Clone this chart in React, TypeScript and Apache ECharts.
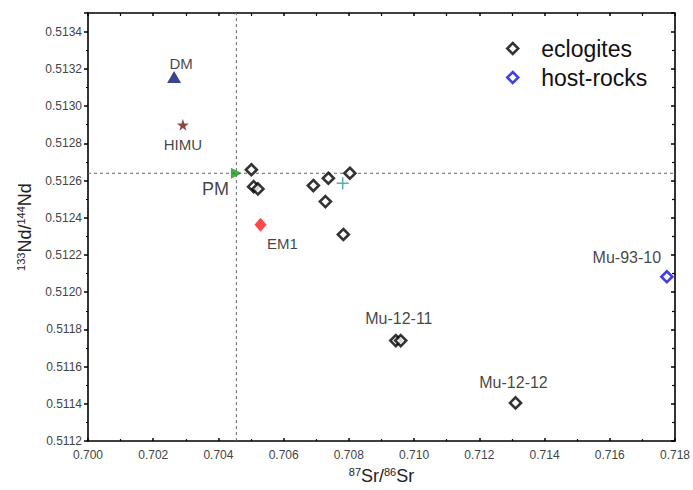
import React, { useEffect, useRef } from 'react';
import * as echarts from 'echarts';

const FONT = '"Liberation Sans", Arial, Helvetica, sans-serif';

// Axis ranges / ticks
const xMin = 0.7;
const xMax = 0.718;
const xStep = 0.002;
const yMin = 0.5112;
const yMax = 0.5135;
const yStep = 0.0002;

// Eclogite samples (87Sr/86Sr, 143Nd/144Nd)
const eclogiteSr = [0.70501, 0.70508, 0.70521, 0.70691, 0.70737, 0.70803, 0.70728, 0.70783, 0.70944, 0.70959, 0.71311];
const eclogiteNd = [0.512658, 0.512567, 0.512555, 0.512573, 0.512612, 0.512639, 0.512487, 0.51231, 0.51174, 0.51174, 0.511405];
const eclogiteLabels = ['', '', '', '', '', '', '', '', 'Mu-12-11', '', 'Mu-12-12'];

// Host rocks
const hostSr = [0.71775];
const hostNd = [0.512083];
const hostLabels = ['Mu-93-10'];

// Mantle end-members
const refNames = ['DM', 'HIMU', 'PM', 'EM1'];
const refSr = [0.70264, 0.70291, 0.70455, 0.70529];
const refNd = [0.513156, 0.512899, 0.512639, 0.512362];

// Extra marker (+) and EM2 text annotation
const crossSr = [0.70781];
const crossNd = [0.512585];
const em2Sr = [0.7107];
const em2Nd = [0.512517];
const em2Names = ['EM2'];

const STAR = 'path://M50 0 L61 35 L98 35 L68 57 L79 91 L50 70 L21 91 L32 57 L2 35 L39 35 Z';
const CROSS = 'path://M0 6 L12 6 M6 0 L6 12';

export default function App() {
  const ref = useRef<HTMLDivElement>(null);

  useEffect(() => {
    if (!ref.current) return;
    const chart = echarts.init(ref.current, null, { renderer: 'svg' });

    const sampleLabelOffsets: Record<string, number[]> = {
      'Mu-12-11': [3, -22],
      'Mu-12-12': [-2, -20],
      'Mu-93-10': [-40, -19],
    };

    const textBase = {
      fontFamily: FONT,
      color: '#111',
      textBorderWidth: 0,
      textBorderColor: 'transparent',
      textShadowBlur: 0,
    };

    const labelFor = (name: string) =>
      name
        ? {
            show: true,
            position: 'inside',
            formatter: '{b}',
            offset: sampleLabelOffsets[name] || [0, -20],
            fontSize: 16,
            ...textBase,
          }
        : { show: false };

    const refStyles: any = {
      DM: { symbol: 'triangle', size: [14, 12], rotate: 0, color: '#0a1870', offset: [7, -14], fontSize: 15 },
      HIMU: { symbol: STAR, size: 12, rotate: 0, color: '#741818', offset: [0, 20], fontSize: 15 },
      PM: { symbol: 'triangle', size: [11, 11], rotate: -90, color: '#159a15', offset: [-21, 16], fontSize: 18 },
      EM1: { symbol: 'diamond', size: [12, 14], rotate: 0, color: '#ff1a1a', offset: [22, 19], fontSize: 15 },
    };

    const refSeries = refNames.map((n, i) => {
      const s = refStyles[n];
      return {
        type: 'scatter',
        name: n,
        symbol: s.symbol,
        symbolSize: s.size,
        symbolRotate: s.rotate,
        z: 3,
        itemStyle: { color: s.color },
        label: {
          show: true,
          position: 'inside',
          formatter: '{b}',
          offset: s.offset,
          fontSize: s.fontSize,
          ...textBase,
        },
        data: [{ name: n, value: [refSr[i], refNd[i]] }],
      };
    });

    const axisCommon = {
      type: 'value',
      axisLine: { show: true, lineStyle: { color: '#000', width: 1.6 } },
      splitLine: { show: false },
    };

    const supRich = {
      sup: { fontSize: 11, verticalAlign: 'top', lineHeight: 10, fontFamily: FONT, color: '#222' },
      b: { fontSize: 18, fontFamily: FONT, color: '#222', lineHeight: 20 },
    };

    const dashStyle = { color: '#666', type: [3, 3], width: 1 };

    const option: any = {
      animation: false,
      backgroundColor: '#fff',
      textStyle: { fontFamily: FONT },
      grid: { left: 88, right: 16, top: 13, bottom: 47, containLabel: false },
      legend: {
        data: ['eclogites', 'host-rocks'],
        orient: 'vertical',
        left: 501,
        top: 32,
        itemWidth: 11,
        itemHeight: 11,
        itemGap: 6,
        itemStyle: { borderWidth: 2.5 },
        textStyle: { fontSize: 23, fontFamily: FONT, color: '#111', lineHeight: 23, padding: [0, 0, 0, 18] },
      },
      xAxis: [
        {
          ...axisCommon,
          position: 'bottom',
          min: xMin,
          max: xMax,
          interval: xStep,
          axisTick: { show: true, inside: true, length: 3, lineStyle: { color: '#000', width: 1.5 } },
          minorTick: { show: true, splitNumber: 2, length: 2, lineStyle: { color: '#000', width: 1.2 } },
          axisLabel: {
            fontSize: 12,
            color: '#444',
            fontFamily: FONT,
            margin: 8,
            formatter: (v: number) => v.toFixed(3),
          },
          name: '{sup|87}{b|Sr/}{sup|86}{b|Sr}',
          nameLocation: 'middle',
          nameGap: 23,
          nameTextStyle: { rich: supRich },
        },
        {
          ...axisCommon,
          position: 'top',
          min: xMin,
          max: xMax,
          interval: xStep,
          axisTick: { show: true, inside: true, length: 3, lineStyle: { color: '#000', width: 1.5 } },
          minorTick: { show: true, splitNumber: 2, length: 3, lineStyle: { color: '#000', width: 1.2 } },
          axisLabel: { show: false },
        },
      ],
      yAxis: [
        {
          ...axisCommon,
          position: 'left',
          min: yMin,
          max: yMax,
          interval: yStep,
          axisTick: { show: true, inside: false, length: 4, lineStyle: { color: '#000', width: 1.5 } },
          minorTick: { show: true, splitNumber: 2, length: 2, lineStyle: { color: '#000', width: 1.2 } },
          axisLabel: {
            fontSize: 12,
            color: '#444',
            fontFamily: FONT,
            margin: 6,
            showMaxLabel: false,
            formatter: (v: number) => (v > 0.51345 ? '' : v.toFixed(4)),
          },
          name: '{sup|133}{b|Nd/}{sup|144}{b|Nd}',
          nameLocation: 'middle',
          nameGap: 53,
          nameTextStyle: { rich: supRich },
        },
        {
          ...axisCommon,
          position: 'right',
          min: yMin,
          max: yMax,
          interval: yStep,
          axisTick: { show: true, inside: true, length: 4, lineStyle: { color: '#000', width: 1.5 } },
          minorTick: { show: true, splitNumber: 2, length: 3, lineStyle: { color: '#000', width: 1.2 } },
          axisLabel: { show: false },
        },
      ],
      series: [
        {
          type: 'line',
          name: 'pm-v',
          silent: true,
          symbol: 'none',
          z: 1,
          lineStyle: dashStyle,
          data: [
            [refSr[2], yMin],
            [refSr[2], yMax],
          ],
        },
        {
          type: 'line',
          name: 'pm-h',
          silent: true,
          symbol: 'none',
          z: 1,
          lineStyle: dashStyle,
          data: [
            [xMin, refNd[2]],
            [xMax, refNd[2]],
          ],
        },
        {
          type: 'scatter',
          name: 'eclogites',
          symbol: 'diamond',
          symbolSize: 11,
          z: 4,
          itemStyle: { color: '#fff', borderColor: '#000', borderWidth: 2.6 },
          data: eclogiteSr.map((x, i) => ({
            name: eclogiteLabels[i],
            value: [x, eclogiteNd[i]],
            label: labelFor(eclogiteLabels[i]),
          })),
        },
        {
          type: 'scatter',
          name: 'host-rocks',
          symbol: 'diamond',
          symbolSize: 11,
          z: 4,
          itemStyle: { color: '#fff', borderColor: '#1010e6', borderWidth: 2.6 },
          data: hostSr.map((x, i) => ({
            name: hostLabels[i],
            value: [x, hostNd[i]],
            label: labelFor(hostLabels[i]),
          })),
        },
        ...refSeries,
        {
          type: 'scatter',
          name: 'cross',
          symbol: CROSS,
          symbolSize: 12,
          z: 3,
          itemStyle: { color: 'none', borderColor: '#2a9a9a', borderWidth: 1.5 },
          data: crossSr.map((x, i) => ({ value: [x, crossNd[i]] })),
        },
        {
          type: 'scatter',
          name: 'EM2',
          symbol: 'none',
          symbolSize: 0,
          z: 3,
          label: {
            show: true,
            position: 'inside',
            formatter: '{b}',
            fontSize: 14,
            ...textBase,
          },
          data: em2Sr.map((x, i) => ({ name: em2Names[i], value: [x, em2Nd[i]] })),
        },
      ],
    };

    chart.setOption(option);
    return () => chart.dispose();
  }, []);

  return (
    <div
      ref={ref}
      style={{ position: 'absolute', left: 0, top: 0, width: 693, height: 490 }}
    />
  );
}
